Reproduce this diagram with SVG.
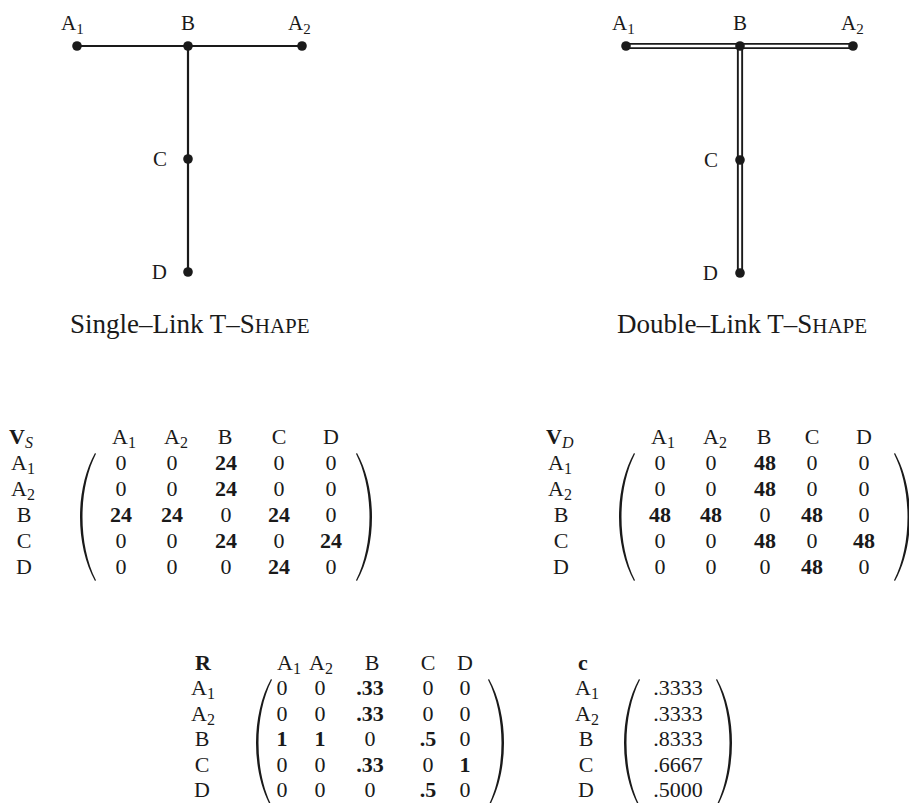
<svg xmlns="http://www.w3.org/2000/svg" xmlns:xlink="http://www.w3.org/1999/xlink" width="909" height="803" viewBox="0 0 909 803">
<style>
text{font-family:"Liberation Serif","Times New Roman",serif;fill:#1a1a1a}
.lbl{font-size:21px}
.m{font-size:22px;text-anchor:middle}
.st{text-anchor:start}
.b{font-weight:bold}
.cap{font-size:27px}
.edge{stroke:#1a1a1a;stroke-width:2.2;fill:none}
.dbl{stroke:#1a1a1a;stroke-width:6.2;fill:none}
.dblin{stroke:#fff;stroke-width:2.4;fill:none}
.dot{fill:#1a1a1a}
.paren{fill:#1a1a1a}
</style>
<defs>
<path id="lp" d="M17,0 C-3,36 -3,92 17,128 L18,127.3 C0,92 0,36 18,0.7 Z"/>
<path id="rp" d="M0,0 C20,36 20,92 0,128 L-1,127.3 C17,92 17,36 -1,0.7 Z"/>
</defs>

<!-- Single-link graph -->
<g id="connectors-single">
<path class="edge" d="M77,46 H302"/>
<path class="edge" d="M188,46 V272"/>
</g>
<g id="s-A1"><circle class="dot" cx="77" cy="46" r="4.8"/><text class="lbl" x="61" y="30">A<tspan font-size="15" dy="4">1</tspan></text></g>
<g id="s-B"><circle class="dot" cx="188" cy="46" r="4.8"/><text class="lbl" x="188" y="30" text-anchor="middle">B</text></g>
<g id="s-A2"><circle class="dot" cx="302" cy="46" r="4.8"/><text class="lbl" x="288" y="30">A<tspan font-size="15" dy="4">2</tspan></text></g>
<g id="s-C"><circle class="dot" cx="188" cy="159" r="4.8"/><text class="lbl" x="167" y="166" text-anchor="end">C</text></g>
<g id="s-D"><circle class="dot" cx="188" cy="272" r="4.8"/><text class="lbl" x="167" y="279" text-anchor="end">D</text></g>
<text class="cap" x="70" y="333">Single–Link T–S<tspan font-size="21">HAPE</tspan></text>

<!-- Double-link graph -->
<g id="connectors-double">
<path class="dbl" d="M626,46 H853"/>
<path class="dbl" d="M740,46 V273"/>
<path class="dblin" d="M626,46 H853"/>
<path class="dblin" d="M740,46 V273"/>
</g>
<g id="d-A1"><circle class="dot" cx="626" cy="46" r="4.8"/><text class="lbl" x="612" y="30">A<tspan font-size="15" dy="4">1</tspan></text></g>
<g id="d-B"><circle class="dot" cx="740" cy="46" r="4.8"/><text class="lbl" x="740" y="30" text-anchor="middle">B</text></g>
<g id="d-A2"><circle class="dot" cx="853" cy="46" r="4.8"/><text class="lbl" x="841" y="30">A<tspan font-size="15" dy="4">2</tspan></text></g>
<g id="d-C"><circle class="dot" cx="740" cy="160" r="4.8"/><text class="lbl" x="718" y="167" text-anchor="end">C</text></g>
<g id="d-D"><circle class="dot" cx="740" cy="273" r="4.8"/><text class="lbl" x="718" y="280" text-anchor="end">D</text></g>
<text class="cap" x="617" y="333">Double–Link T–S<tspan font-size="21">HAPE</tspan></text>

<!-- V_S matrix -->
<g id="matrix-VS">
<text class="m b st" x="9" y="444">V<tspan font-weight="normal" font-style="italic" font-size="16" dy="4">S</tspan></text>
<text class="m" x="124" y="444">A<tspan font-size="16" dy="4">1</tspan></text>
<text class="m" x="176" y="444">A<tspan font-size="16" dy="4">2</tspan></text>
<text class="m" x="225" y="444">B</text>
<text class="m" x="279" y="444">C</text>
<text class="m" x="331" y="444">D</text>
<text class="m" x="23" y="470">A<tspan font-size="16" dy="4">1</tspan></text>
<text class="m" x="23" y="496">A<tspan font-size="16" dy="4">2</tspan></text>
<text class="m" x="24" y="522">B</text>
<text class="m" x="24" y="548">C</text>
<text class="m" x="24" y="574">D</text>
<use xlink:href="#lp" class="paren" x="78" y="453"/>
<use xlink:href="#rp" class="paren" x="357" y="453"/>
<text class="m" x="121" y="470">0</text><text class="m" x="172" y="470">0</text><text class="m b" x="226" y="470">24</text><text class="m" x="279" y="470">0</text><text class="m" x="331" y="470">0</text>
<text class="m" x="121" y="496">0</text><text class="m" x="172" y="496">0</text><text class="m b" x="226" y="496">24</text><text class="m" x="279" y="496">0</text><text class="m" x="331" y="496">0</text>
<text class="m b" x="121" y="522">24</text><text class="m b" x="172" y="522">24</text><text class="m" x="226" y="522">0</text><text class="m b" x="279" y="522">24</text><text class="m" x="331" y="522">0</text>
<text class="m" x="121" y="548">0</text><text class="m" x="172" y="548">0</text><text class="m b" x="226" y="548">24</text><text class="m" x="279" y="548">0</text><text class="m b" x="331" y="548">24</text>
<text class="m" x="121" y="574">0</text><text class="m" x="172" y="574">0</text><text class="m" x="226" y="574">0</text><text class="m b" x="279" y="574">24</text><text class="m" x="331" y="574">0</text>
</g>

<!-- V_D matrix -->
<g id="matrix-VD">
<text class="m b st" x="546" y="444">V<tspan font-weight="normal" font-style="italic" font-size="16" dy="4">D</tspan></text>
<text class="m" x="663" y="444">A<tspan font-size="16" dy="4">1</tspan></text>
<text class="m" x="715" y="444">A<tspan font-size="16" dy="4">2</tspan></text>
<text class="m" x="764" y="444">B</text>
<text class="m" x="812" y="444">C</text>
<text class="m" x="864" y="444">D</text>
<text class="m" x="560" y="470">A<tspan font-size="16" dy="4">1</tspan></text>
<text class="m" x="560" y="496">A<tspan font-size="16" dy="4">2</tspan></text>
<text class="m" x="561" y="522">B</text>
<text class="m" x="561" y="548">C</text>
<text class="m" x="561" y="574">D</text>
<use xlink:href="#lp" class="paren" x="617" y="453"/>
<use xlink:href="#rp" class="paren" x="895" y="453"/>
<text class="m" x="660" y="470">0</text><text class="m" x="711" y="470">0</text><text class="m b" x="765" y="470">48</text><text class="m" x="812" y="470">0</text><text class="m" x="864" y="470">0</text>
<text class="m" x="660" y="496">0</text><text class="m" x="711" y="496">0</text><text class="m b" x="765" y="496">48</text><text class="m" x="812" y="496">0</text><text class="m" x="864" y="496">0</text>
<text class="m b" x="660" y="522">48</text><text class="m b" x="711" y="522">48</text><text class="m" x="765" y="522">0</text><text class="m b" x="812" y="522">48</text><text class="m" x="864" y="522">0</text>
<text class="m" x="660" y="548">0</text><text class="m" x="711" y="548">0</text><text class="m b" x="765" y="548">48</text><text class="m" x="812" y="548">0</text><text class="m b" x="864" y="548">48</text>
<text class="m" x="660" y="574">0</text><text class="m" x="711" y="574">0</text><text class="m" x="765" y="574">0</text><text class="m b" x="812" y="574">48</text><text class="m" x="864" y="574">0</text>
</g>

<!-- R matrix -->
<g id="matrix-R">
<text class="m b" x="203" y="670">R</text>
<text class="m" x="289" y="670">A<tspan font-size="16" dy="4">1</tspan></text>
<text class="m" x="321" y="670">A<tspan font-size="16" dy="4">2</tspan></text>
<text class="m" x="372" y="670">B</text>
<text class="m" x="428" y="670">C</text>
<text class="m" x="465" y="670">D</text>
<text class="m" x="203" y="695">A<tspan font-size="16" dy="4">1</tspan></text>
<text class="m" x="203" y="721">A<tspan font-size="16" dy="4">2</tspan></text>
<text class="m" x="202" y="746">B</text>
<text class="m" x="202" y="772">C</text>
<text class="m" x="202" y="797">D</text>
<use xlink:href="#lp" class="paren" x="254" y="679"/>
<use xlink:href="#rp" class="paren" x="489" y="679"/>
<text class="m" x="282" y="695">0</text><text class="m" x="320" y="695">0</text><text class="m b" x="370" y="695">.33</text><text class="m" x="428" y="695">0</text><text class="m" x="465" y="695">0</text>
<text class="m" x="282" y="721">0</text><text class="m" x="320" y="721">0</text><text class="m b" x="370" y="721">.33</text><text class="m" x="428" y="721">0</text><text class="m" x="465" y="721">0</text>
<text class="m b" x="282" y="746">1</text><text class="m b" x="320" y="746">1</text><text class="m" x="370" y="746">0</text><text class="m b" x="428" y="746">.5</text><text class="m" x="465" y="746">0</text>
<text class="m" x="282" y="772">0</text><text class="m" x="320" y="772">0</text><text class="m b" x="370" y="772">.33</text><text class="m" x="428" y="772">0</text><text class="m b" x="465" y="772">1</text>
<text class="m" x="282" y="797">0</text><text class="m" x="320" y="797">0</text><text class="m" x="370" y="797">0</text><text class="m b" x="428" y="797">.5</text><text class="m" x="465" y="797">0</text>
</g>

<!-- c vector -->
<g id="vector-c">
<text class="m b" x="583" y="670">c</text>
<text class="m" x="587" y="695">A<tspan font-size="16" dy="4">1</tspan></text>
<text class="m" x="587" y="721">A<tspan font-size="16" dy="4">2</tspan></text>
<text class="m" x="586" y="746">B</text>
<text class="m" x="586" y="772">C</text>
<text class="m" x="586" y="797">D</text>
<use xlink:href="#lp" class="paren" x="622" y="679"/>
<use xlink:href="#rp" class="paren" x="717" y="679"/>
<text class="m" x="678" y="695">.3333</text>
<text class="m" x="678" y="721">.3333</text>
<text class="m" x="678" y="746">.8333</text>
<text class="m" x="678" y="772">.6667</text>
<text class="m" x="678" y="797">.5000</text>
</g>
</svg>
